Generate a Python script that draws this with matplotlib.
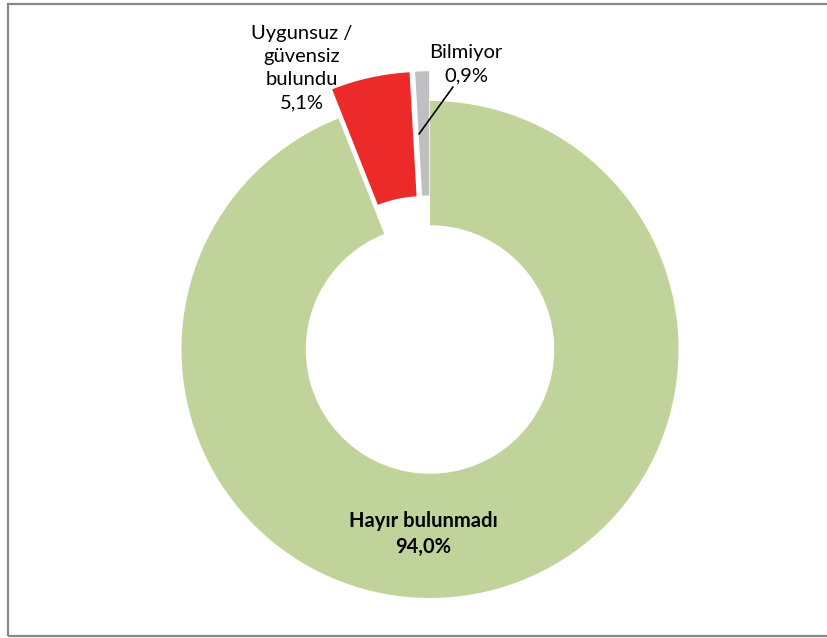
import matplotlib
matplotlib.use("Agg")
import matplotlib.pyplot as plt
from matplotlib.patches import Rectangle

labels = ["Hayır bulunmadı", "Uygunsuz /\ngüvensiz\nbulundu", "Bilmiyor"]
values = [94.0, 5.1, 0.9]
colors = ["#C0D39B", "#ED2A2A", "#BEBEC3"]
explode = [0, 0.12, 0.12]

plt.rcParams['font.family'] = ['Lato', 'DejaVu Sans']

W, H = 828, 638
fig = plt.figure(figsize=(W / 100, H / 100), dpi=100)
ax = fig.add_axes([0, 0, 1, 1])

# pie centre and radius in pixels
cx, cy, R = 430, 349.5, 248.5

def px(x, y):
    return (x - cx) / R, (cy - y) / R

ax.pie(values, colors=colors, explode=explode, startangle=90, counterclock=False,
       radius=1, wedgeprops=dict(width=0.5, edgecolor='none'))

ax.set_xlim(px(0, 0)[0], px(W, 0)[0])
ax.set_ylim(px(0, H)[1], px(0, 0)[1])
ax.set_aspect('equal')
ax.axis('off')

def fmt(v):
    return f"{v:.1f}%".replace('.', ',')

fs = 14.5
ax.text(*px(423, 534), f"{labels[0]}\n{fmt(values[0])}", ha='center', va='center',
        fontsize=fs, fontweight='bold', linespacing=1.4, color='#000000')
ax.text(*px(302, 68), f"{labels[1]}\n{fmt(values[1])}", ha='center', va='center',
        fontsize=fs, linespacing=1.45, color='#000000')
ax.annotate(f"{labels[2]}\n{fmt(values[2])}", xy=px(419, 134), xytext=px(466, 64),
            ha='center', va='center', fontsize=fs, linespacing=1.45,
            arrowprops=dict(arrowstyle='-', color='black', lw=1.2,
                            shrinkA=0, shrinkB=0, relpos=(0.35, 0.0)))

fig.patches.append(Rectangle((8 / W, 1 - 636 / H), 1.0, (636 - 3.5) / H,
                             transform=fig.transFigure, fill=False,
                             edgecolor='#888888', lw=1.6))

fig.savefig("out.png", dpi=100)
